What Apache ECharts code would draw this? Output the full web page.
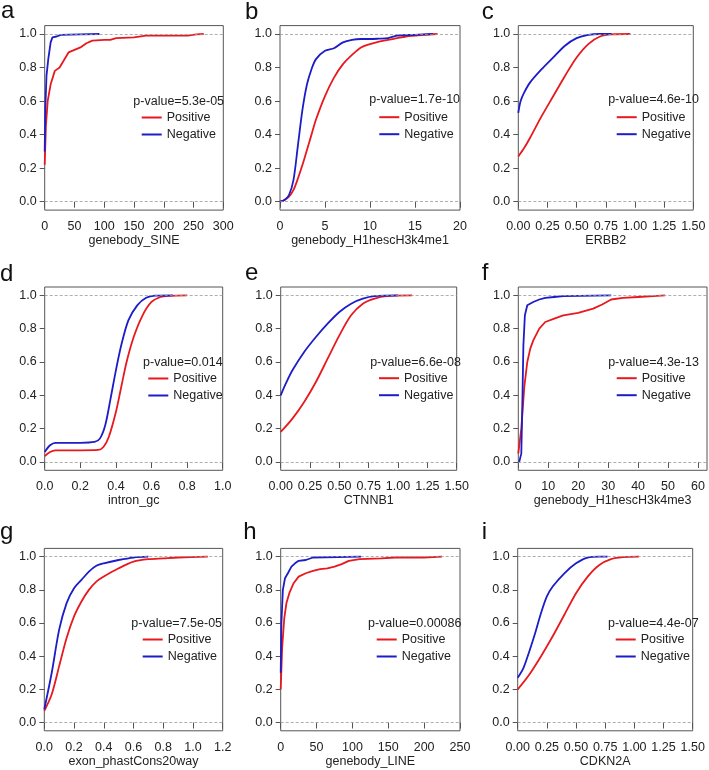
<!DOCTYPE html>
<html>
<head>
<meta charset="utf-8">
<script src="https://cdn.jsdelivr.net/npm/echarts@6/dist/echarts.min.js"></script>
<style>
  html, body { margin: 0; padding: 0; background: #fff; }
  #main { width: 709px; height: 770px; }
</style>
</head>
<body>
<div id="main"></div>
<script>
// Panel text
const panelLetters = ['a', 'b', 'c', 'd', 'e', 'f', 'g', 'h', 'i'];
const featureNames = ['genebody_SINE', 'genebody_H1hescH3k4me1', 'ERBB2',
    'intron_gc', 'CTNNB1', 'genebody_H1hescH3k4me3',
    'exon_phastCons20way', 'genebody_LINE', 'CDKN2A'];
const pValues = ['5.3e-05', '1.7e-10', '4.6e-10', '0.014', '6.6e-08', '4.3e-13',
    '7.5e-05', '0.00086', '4.4e-07'];

// Axis ticks
const yTicks = [0, 0.2, 0.4, 0.6, 0.8, 1.0];
const xTicksA = [0, 50, 100, 150, 200, 250, 300];
const xTicksB = [0, 5, 10, 15, 20];
const xTicksQuarter = [0, 0.25, 0.5, 0.75, 1.0, 1.25, 1.5];
const xTicksD = [0, 0.2, 0.4, 0.6, 0.8, 1.0];
const xTicksF = [0, 10, 20, 30, 40, 50, 60];
const xTicksG = [0, 0.2, 0.4, 0.6, 0.8, 1.0, 1.2];
const xTicksH = [0, 50, 100, 150, 200, 250];

// ECDF curves [x, cumulative fraction]
const sinePos = [[0, 0.22], [2, 0.45], [5, 0.6], [10, 0.7], [17, 0.78], [25, 0.8], [30, 0.83],
    [40, 0.89], [50, 0.905], [60, 0.92], [70, 0.945], [80, 0.96], [100, 0.965], [110, 0.965],
    [120, 0.975], [150, 0.98], [170, 0.99], [240, 0.99], [255, 0.998], [267, 1.0]];
const sineNeg = [[0, 0.3], [1, 0.55], [3, 0.75], [6, 0.85], [10, 0.95], [13, 0.98], [20, 0.985],
    [27, 0.995], [60, 0.998], [92, 1.0]];

const k4me1Pos = [[0, 0], [0.5, 0.01], [1, 0.03], [1.5, 0.07], [2, 0.14], [2.5, 0.22], [3, 0.31],
    [3.5, 0.4], [4, 0.49], [5, 0.63], [6, 0.74], [7, 0.82], [8, 0.875], [9, 0.92], [10, 0.94],
    [11, 0.955], [12, 0.965], [13, 0.975], [14, 0.985], [15, 0.99], [16, 0.995], [17.5, 1.0]];
const k4me1Neg = [[0, 0], [0.5, 0.01], [1, 0.04], [1.5, 0.13], [2, 0.34], [2.5, 0.55], [3, 0.7],
    [3.5, 0.79], [4, 0.85], [5, 0.9], [6, 0.915], [7, 0.95], [8, 0.965], [9, 0.97], [10, 0.97],
    [11, 0.972], [12, 0.975], [13, 0.99], [15, 0.995], [17, 1.0]];

const erbb2Pos = [[0, 0.27], [0.05, 0.32], [0.1, 0.38], [0.2, 0.51], [0.3, 0.63], [0.4, 0.75],
    [0.5, 0.86], [0.6, 0.94], [0.7, 0.985], [0.8, 0.998], [0.96, 1.0]];
const erbb2Neg = [[0, 0.53], [0.02, 0.6], [0.05, 0.65], [0.1, 0.71], [0.2, 0.79], [0.3, 0.86],
    [0.4, 0.93], [0.5, 0.975], [0.6, 0.995], [0.7, 1.0], [0.8, 1.0]];

const gcPos = [[0, 0.035], [0.03, 0.06], [0.06, 0.07], [0.1, 0.07], [0.2, 0.07], [0.3, 0.072],
    [0.33, 0.09], [0.36, 0.15], [0.4, 0.3], [0.43, 0.45], [0.46, 0.6], [0.5, 0.75], [0.55, 0.88],
    [0.6, 0.96], [0.65, 0.99], [0.7, 0.997], [0.8, 1.0]];
const gcNeg = [[0, 0.06], [0.03, 0.1], [0.06, 0.115], [0.1, 0.115], [0.2, 0.115], [0.28, 0.12],
    [0.31, 0.14], [0.34, 0.22], [0.37, 0.38], [0.4, 0.55], [0.43, 0.7], [0.47, 0.85], [0.52, 0.94],
    [0.57, 0.985], [0.62, 0.998], [0.72, 1.0]];

const ctnnb1Pos = [[0, 0.18], [0.1, 0.26], [0.2, 0.36], [0.3, 0.48], [0.4, 0.62], [0.5, 0.76],
    [0.6, 0.88], [0.7, 0.95], [0.8, 0.98], [0.9, 0.995], [1.12, 1.0]];
const ctnnb1Neg = [[0, 0.4], [0.05, 0.48], [0.1, 0.55], [0.2, 0.66], [0.3, 0.75], [0.4, 0.83],
    [0.5, 0.9], [0.6, 0.95], [0.7, 0.98], [0.8, 0.995], [1.0, 1.0]];

const k4me3Pos = [[0, 0.05], [1, 0.2], [2, 0.45], [3, 0.6], [4, 0.68], [5, 0.73], [7, 0.8],
    [9, 0.84], [12, 0.86], [15, 0.88], [20, 0.895], [25, 0.92], [28, 0.945], [31, 0.975],
    [35, 0.985], [40, 0.99], [45, 0.995], [49, 1.0]];
const k4me3Neg = [[0.3, 0.0], [0.8, 0.0], [1, 0.05], [1.3, 0.3], [1.7, 0.7], [2.2, 0.88],
    [3, 0.94], [5, 0.96], [7, 0.975], [9, 0.985], [12, 0.99], [15, 0.995], [31, 1.0]];

const consPos = [[0, 0.07], [0.05, 0.17], [0.1, 0.34], [0.15, 0.51], [0.2, 0.64], [0.25, 0.73],
    [0.3, 0.8], [0.35, 0.85], [0.4, 0.88], [0.5, 0.93], [0.6, 0.97], [0.7, 0.985], [0.8, 0.99],
    [0.9, 0.995], [1.1, 1.0]];
const consNeg = [[0, 0.08], [0.05, 0.3], [0.1, 0.56], [0.15, 0.72], [0.2, 0.81], [0.25, 0.86],
    [0.3, 0.91], [0.35, 0.945], [0.4, 0.96], [0.5, 0.98], [0.6, 0.995], [0.7, 1.0]];

const linePos = [[0, 0.2], [2, 0.45], [5, 0.63], [8, 0.72], [12, 0.78], [18, 0.84], [25, 0.88],
    [35, 0.9], [45, 0.915], [55, 0.925], [65, 0.93], [75, 0.94], [85, 0.955], [95, 0.975],
    [110, 0.985], [140, 0.99], [160, 0.995], [200, 0.995], [225, 1.0]];
const lineNeg = [[0, 0.3], [1, 0.6], [3, 0.8], [6, 0.87], [10, 0.9], [15, 0.94], [20, 0.96],
    [25, 0.975], [35, 0.98], [45, 0.995], [112, 1.0]];

const cdkn2aPos = [[0, 0.2], [0.1, 0.29], [0.2, 0.4], [0.3, 0.52], [0.4, 0.65], [0.5, 0.78],
    [0.6, 0.88], [0.7, 0.95], [0.8, 0.985], [0.9, 0.997], [1.04, 1.0]];
const cdkn2aNeg = [[0, 0.27], [0.05, 0.33], [0.1, 0.43], [0.15, 0.54], [0.2, 0.66], [0.25, 0.76],
    [0.3, 0.82], [0.4, 0.9], [0.5, 0.96], [0.6, 0.995], [0.7, 1.0], [0.77, 1.0]];

const positiveCurves = [sinePos, k4me1Pos, erbb2Pos, gcPos, ctnnb1Pos, k4me3Pos, consPos, linePos, cdkn2aPos];
const negativeCurves = [sineNeg, k4me1Neg, erbb2Neg, gcNeg, ctnnb1Neg, k4me3Neg, consNeg, lineNeg, cdkn2aNeg];
const xTickSets = [xTicksA, xTicksB, xTicksQuarter, xTicksD, xTicksQuarter, xTicksF, xTicksG, xTicksH, xTicksQuarter];
const xMaxes = [300, 20, 1.5, 1.0, 1.5, 63, 1.2, 250, 1.5];
const xDecimals = [0, 0, 2, 1, 2, 0, 1, 0, 2];

// Layout (pixels)
const boxes = [
    { left: 44.7, top: 25.6, width: 178.6, height: 184.5 },
    { left: 280, top: 25.6, width: 180, height: 184.5 },
    { left: 518.3, top: 25.6, width: 175, height: 184.5 },
    { left: 44.7, top: 287, width: 178, height: 183.3 },
    { left: 280.7, top: 287, width: 176, height: 183.3 },
    { left: 518.3, top: 287, width: 188.7, height: 183.3 },
    { left: 44.3, top: 548.4, width: 178.4, height: 182.4 },
    { left: 280.7, top: 548.4, width: 179.3, height: 182.4 },
    { left: 517.7, top: 548.4, width: 175, height: 182.4 }
];
const letterPos = [[1, 19.5], [245, 20.5], [481.7, 20], [0, 282.3], [245, 281.7], [481.7, 281.7],
    [0, 540.7], [243.3, 540.7], [481.7, 540.7]];
const pvalPos = [[178.7, 101.7], [414.7, 100], [653.5, 100], [182.8, 362.3], [415.5, 362.3],
    [653.5, 362.3], [176.7, 623.3], [414.7, 623.3], [653.3, 623.3]];
const legendPos = [[141.7, 117], [379.3, 116.7], [616.7, 116.7], [148.3, 378], [379, 377.7],
    [616.7, 377.7], [142.7, 639], [376.7, 639], [615.7, 639]];
// jagged ECDFs (many steps) stay straight; smooth ones get spline smoothing
const smoothness = [0, 0.3, 0.3, 0.3, 0.3, 0, 0.3, 0, 0.3];

const FONT = '"Liberation Sans", Arial, sans-serif';
const RED = '#e8191e';
const BLUE = '#1c1cc8';
const BOX = '#555';

const grids = [], xAxes = [], yAxes = [], series = [], legends = [], graphics = [];

boxes.forEach(function (b, i) {
    grids.push({
        left: b.left, top: b.top, width: b.width, height: b.height,
        show: true, borderColor: BOX, borderWidth: 1, backgroundColor: 'transparent'
    });

    xAxes.push({
        type: 'value', gridIndex: i, min: 0, max: xMaxes[i],
        name: featureNames[i], nameLocation: 'middle', nameGap: 23,
        nameTextStyle: { fontFamily: FONT, fontSize: 12.5, color: '#222' },
        axisLine: { show: false },
        axisTick: { show: true, length: 6, customValues: xTickSets[i], lineStyle: { color: BOX } },
        axisLabel: {
            customValues: xTickSets[i], margin: 10,
            fontFamily: FONT, fontSize: 12.5, color: '#222',
            formatter: function (v) { return Number(v).toFixed(xDecimals[i]); }
        },
        splitLine: { show: false }
    });

    yAxes.push({
        type: 'value', gridIndex: i, min: -0.05, max: 1.05,
        axisLine: { show: false },
        axisTick: { show: true, length: 5, customValues: yTicks, lineStyle: { color: BOX } },
        axisLabel: {
            customValues: yTicks, margin: 8,
            fontFamily: FONT, fontSize: 12.5, color: '#222',
            formatter: function (v) { return Number(v).toFixed(1); }
        },
        splitLine: { show: false }
    });

    series.push({
        name: 'Positive', type: 'line', xAxisIndex: i, yAxisIndex: i,
        data: positiveCurves[i], showSymbol: false, symbol: 'none',
        smooth: smoothness[i],
        color: RED, lineStyle: { color: RED, width: 1.8 },
        markLine: {
            silent: true, symbol: ['none', 'none'], label: { show: false },
            lineStyle: { type: [3, 2], color: '#9a9a9a', width: 0.8 },
            data: [{ yAxis: 0 }, { yAxis: 1 }]
        },
        z: 3
    });
    series.push({
        name: 'Negative', type: 'line', xAxisIndex: i, yAxisIndex: i,
        data: negativeCurves[i], showSymbol: false, symbol: 'none',
        smooth: smoothness[i],
        color: BLUE, lineStyle: { color: BLUE, width: 1.8 },
        z: 4
    });

    legends.push({
        data: ['Positive', 'Negative'], orient: 'vertical',
        left: legendPos[i][0], top: legendPos[i][1] - 6,
        icon: 'rect', itemWidth: 20, itemHeight: 2, itemGap: 4, padding: 0,
        selectedMode: false,
        textStyle: { fontFamily: FONT, fontSize: 12.5, color: '#222', lineHeight: 12 }
    });

    graphics.push({
        type: 'text', x: letterPos[i][0], y: letterPos[i][1] - 8,
        style: { text: panelLetters[i], font: '24px ' + FONT, fill: '#111',
            textAlign: 'left', textVerticalAlign: 'middle' }
    });
    graphics.push({
        type: 'text', x: pvalPos[i][0], y: pvalPos[i][1],
        style: { text: 'p-value=' + pValues[i], font: '12.5px ' + FONT, fill: '#222',
            textAlign: 'center', textVerticalAlign: 'middle' }
    });
});

const chart = echarts.init(document.getElementById('main'), null, { renderer: 'canvas' });
chart.setOption({
    animation: false,
    backgroundColor: '#fff',
    grid: grids,
    xAxis: xAxes,
    yAxis: yAxes,
    legend: legends,
    graphic: graphics,
    series: series
});
</script>
</body>
</html>
